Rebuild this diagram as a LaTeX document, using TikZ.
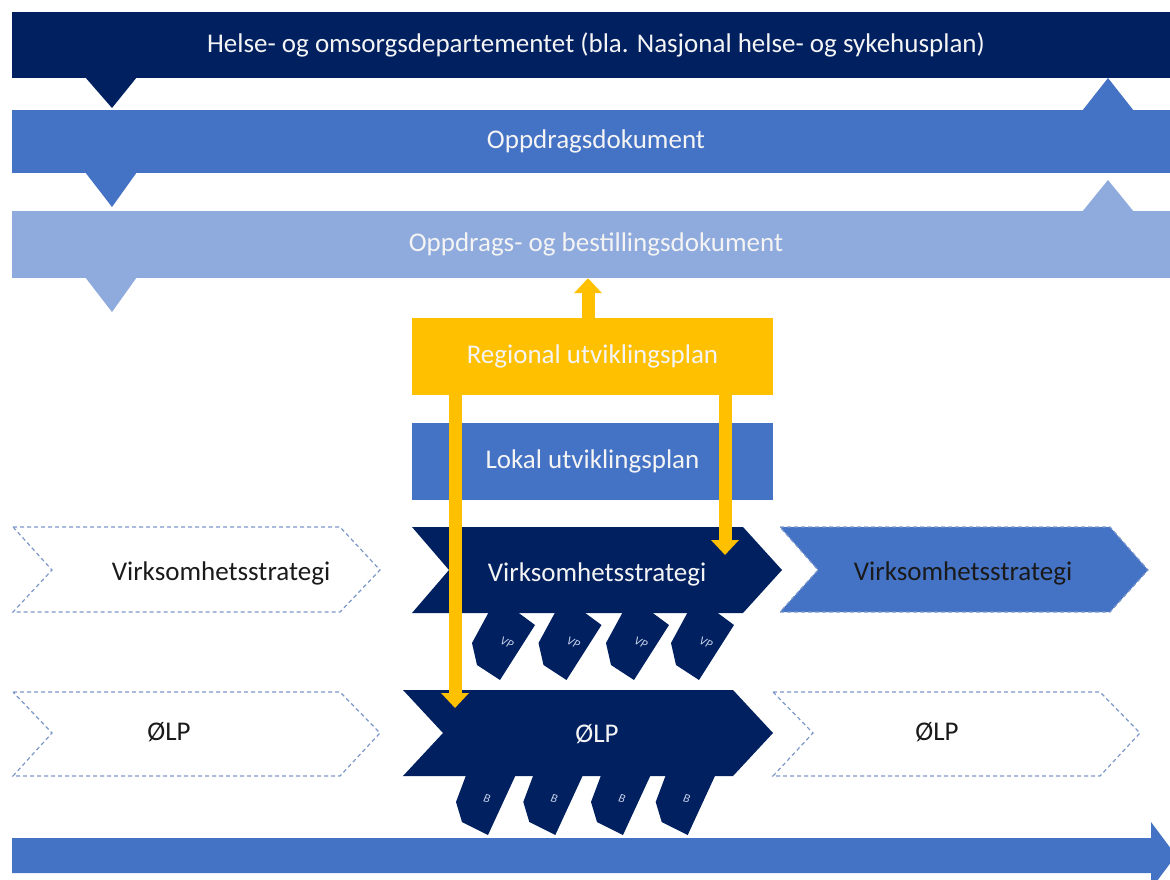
\documentclass[tikz,border=0pt]{standalone}
\usepackage{fontspec}
\setmainfont{Carlito}
\usetikzlibrary{arrows.meta}
\definecolor{navy}{HTML}{002060}
\definecolor{mblue}{HTML}{4472C4}
\definecolor{lblue}{HTML}{8FAADC}
\definecolor{gold}{HTML}{FFC000}
\definecolor{dashc}{HTML}{7C97C9}
\definecolor{txtk}{HTML}{1A1A1A}
\definecolor{txtw}{HTML}{F4F4F4}
\definecolor{tabtxt}{HTML}{C9D3EA}
\begin{document}
\begin{tikzpicture}[x=1pt,y=-1pt,
  banner/.style={rectangle, inner sep=0pt, minimum width=1168pt, text=txtw, font=\fontsize{27}{30}\selectfont},
  box/.style={rectangle, inner sep=0pt, minimum width=361pt, minimum height=77pt, text=txtw, font=\fontsize{27}{30}\selectfont},
  lbl/.style={inner sep=0pt, font=\fontsize{27}{30}\selectfont},
  tablbl/.style={inner sep=0pt, text=tabtxt, font=\fontsize{12}{12}\selectfont\itshape},
  dashchev/.style={draw=dashc, line width=1.2pt, dash pattern=on 4pt off 3pt},
  yarr/.style={draw=gold, line width=13pt, -{Triangle[length=15pt,width=27pt]}}]
\useasboundingbox (0,0) rectangle (1170,880);
\clip (0,0) rectangle (1170,880);

% banners
\node[banner, fill=navy, minimum height=66pt] (b1) at (596,45) {\raisebox{-2pt}{Helse- og omsorgsdepartementet (bla. Nasjonal helse- og sykehusplan)}};
\fill[navy] (85,77) -- (137,77) -- (112,108) -- cycle;

\node[banner, fill=mblue, minimum height=63pt] (b2) at (596,141.5) {\raisebox{-2pt}{Oppdragsdokument}};
\fill[mblue] (1082,111) -- (1134,111) -- (1108,78) -- cycle;
\fill[mblue] (85,172) -- (137,172) -- (112,207) -- cycle;

\node[banner, fill=lblue, minimum height=67pt] (b3) at (596,244.5) {\raisebox{-2pt}{Oppdrags- og bestillingsdokument}};
\fill[lblue] (1082,212) -- (1134,212) -- (1108,180) -- cycle;
\fill[lblue] (85,277) -- (137,277) -- (112,312) -- cycle;

% plan boxes
\node[box, fill=gold] (reg) at (592.5,356.5) {\raisebox{-2pt}{Regional utviklingsplan}};
\node[box, fill=mblue] (lok) at (592.5,461.5) {\raisebox{-2pt}{Lokal utviklingsplan}};

% VP tabs
\foreach \dx/\nm in {0/vp1,66.5/vp2,134/vp3,199/vp4}{
  \fill[navy] (491+\dx,608) -- (472+\dx,643) -- (477+\dx,665) -- (500+\dx,680) -- (535+\dx,625) -- (512+\dx,608) -- cycle;
  \node[tablbl, rotate=-25] (\nm) at (507+\dx,643) {VP};
}
% B tabs
\foreach \dx/\nm in {0/bt1,67.3/bt2,135/bt3,199.7/bt4}{
  \fill[navy] (468+\dx,770) -- (456+\dx,802) -- (462+\dx,822) -- (488+\dx,835) -- (518+\dx,770) -- cycle;
  \node[tablbl, rotate=-15] (\nm) at (487+\dx,799) {B};
}

% chevrons: Virksomhetsstrategi row
\draw[dashchev] (13,527) -- (340,527) -- (380,570) -- (340,612) -- (13,612) -- (52,570) -- cycle;
\node[lbl, text=txtk] (vsl) at (221,573) {Virksomhetsstrategi};
\fill[navy] (412,527) -- (743,527) -- (782,570) -- (743,613) -- (412,613) -- (449,570) -- cycle;
\node[lbl, text=txtw] (vsm) at (597,574) {Virksomhetsstrategi};
\draw[dashchev, fill=mblue] (780,527) -- (1110,527) -- (1148,570) -- (1110,612) -- (780,612) -- (818,570) -- cycle;
\node[lbl, text=txtk] (vsr) at (963,573) {Virksomhetsstrategi};

% chevrons: ØLP row
\draw[dashchev] (13,692) -- (340,692) -- (380,733) -- (340,776) -- (13,776) -- (52,733) -- cycle;
\node[lbl, text=txtk] (oll) at (169,732) {ØLP};
\fill[navy] (403,690) -- (733,690) -- (773,733) -- (733,776) -- (403,776) -- (443,733) -- cycle;
\node[lbl, text=txtw] (olm) at (597,734) {ØLP};
\draw[dashchev] (773,692) -- (1100,692) -- (1140,733) -- (1100,776) -- (773,776) -- (813,733) -- cycle;
\node[lbl, text=txtk] (olr) at (937,732) {ØLP};

% bottom time arrow
\fill[mblue] (12,838) -- (1151,838) -- (1151,822) -- (1176,855.5) -- (1151,889) -- (1151,873) -- (12,873) -- cycle;

% yellow connectors
\coordinate (vsin) at (725,555);
\coordinate (olin) at (455,708);
\draw[yarr] ([xshift=-4.5pt]reg.north) -- ([xshift=-4.5pt]reg.north |- b3.south);
\draw[yarr] (reg.south -| vsin) -- (vsin);
\draw[yarr] (reg.south -| olin) -- (olin);
\end{tikzpicture}
\end{document}
